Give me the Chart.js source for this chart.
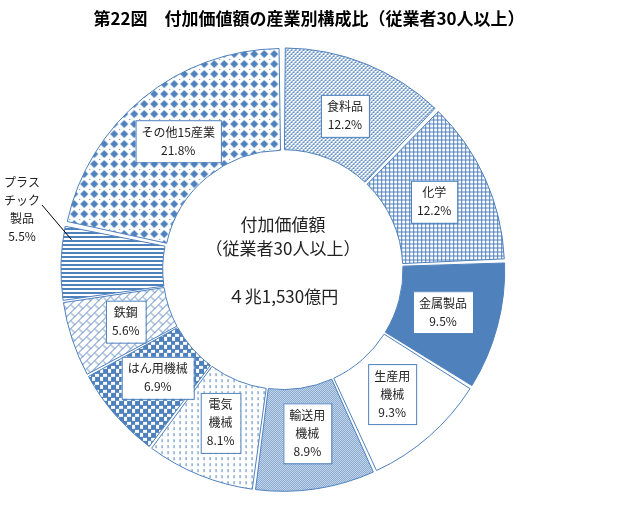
<!DOCTYPE html><html><head><meta charset="utf-8">
<script src="https://cdn.jsdelivr.net/npm/chart.js@4"></script>
<style>body{margin:0;background:#fff}#w{position:relative;width:618px;height:507px}
h1{position:absolute;left:0;top:5px;width:618px;margin:0;text-align:center;font:bold 17px "Noto Sans CJK JP";letter-spacing:0px}</style>
</head><body><div id="w"><h1>第22図　付加価値額の産業別構成比（従業者30人以上）</h1><canvas id="c" width="618" height="507"></canvas></div>
<script>
const categories=["食料品","化学","金属製品","生産用機械","輸送用機械","電気機械","はん用機械","鉄鋼","プラスチック製品","その他15産業"];
const labelLines=[["食料品"],["化学"],["金属製品"],["生産用","機械"],["輸送用","機械"],["電気","機械"],["はん用機械"],["鉄鋼"],["プラス","チック","製品"],["その他15産業"]];
const values=[12.2,12.2,9.5,9.3,8.9,8.1,6.9,5.6,5.5,21.8];
const centerLines=["付加価値額","（従業者30人以上）","","４兆1,530億円"];
const B='#4f81bd';
function pat(size,draw){const c=document.createElement('canvas');c.width=c.height=size;const x=c.getContext('2d');x.fillStyle='#fff';x.fillRect(0,0,size,size);x.fillStyle=B;x.strokeStyle=B;draw(x,size);return x.createPattern(c,'repeat');}
const fills=[
 pat(4,(x)=>{x.fillRect(0,0,2,2);x.fillRect(2,2,2,2);x.fillStyle='#fff';x.fillRect(0,0,1,1);x.fillRect(2,2,1,1);}),
 pat(4,(x)=>{x.fillRect(0,0,4,1);x.fillRect(0,0,1,4);}),
 B,
 '#fff',
 pat(2,(x)=>{x.fillRect(0,0,1,1);x.fillRect(1,1,1,1);}),
 pat(6,(x)=>{x.fillRect(0,0,1,3);}),
 pat(8,(x)=>{x.fillRect(0,0,4,4);x.fillRect(4,4,4,4);x.fillRect(0,4,8,1);x.fillRect(4,0,1,8);}),
 pat(8,(x)=>{x.lineWidth=1;x.beginPath();x.moveTo(0,8);x.lineTo(8,0);x.moveTo(-4,4);x.lineTo(4,-4);x.moveTo(4,12);x.lineTo(12,4);x.moveTo(0,0.5);x.lineTo(4,4.5);x.stroke();}),
 pat(4,(x)=>{x.fillRect(0,0,4,2);}),
 pat(10,(x)=>{x.beginPath();x.moveTo(5,1);x.lineTo(9,5);x.lineTo(5,9);x.lineTo(1,5);x.fill();x.fillRect(0,0,1,1);})
];
const F='"Noto Sans CJK JP","Noto Sans"';
const plug={id:'lab',afterDatasetsDraw(ch){const c=ch.ctx;const meta=ch.getDatasetMeta(0);
 c.save();c.textAlign='center';c.textBaseline='middle';
 const a0=meta.data[0];const cx=a0.x,cy=a0.y;
 c.fillStyle='#222';c.font='17px '+F;
 [[0,-45],[1,-21],[3,27]].forEach(([i,dy])=>c.fillText(centerLines[i],cx,cy+dy));
 meta.data.forEach((a,i)=>{const lines=labelLines[i].concat([values[i].toFixed(1)+'%']);c.font='12px '+F;
  const lh=18;
  if(i==8){const p=a.tooltipPosition();c.strokeStyle='#000';c.lineWidth=1;c.beginPath();c.moveTo(42,205);c.lineTo(p.x-40,p.y-25);c.stroke();
   lines.forEach((t,k)=>{c.fillStyle='#222';c.fillText(t,22,196+k*18-14);});return;}
  const m=(a.startAngle+a.endAngle)/2,r=(a.innerRadius+a.outerRadius)/2;
  let px=a.x+Math.cos(m)*r,py=a.y+Math.sin(m)*r;
  const w=Math.max(...lines.map(t=>c.measureText(t).width))+12,h=lines.length*lh+6;
  c.fillStyle='#fff';c.fillRect(px-w/2,py-h/2,w,h);c.strokeStyle=B;c.lineWidth=1;c.strokeRect(px-w/2+.5,py-h/2+.5,w,h);
  c.fillStyle='#222';lines.forEach((t,k)=>c.fillText(t,px,py-h/2+3+lh/2+k*lh));});
 c.restore();}};
new Chart(document.getElementById('c'),{type:'doughnut',data:{labels:categories,datasets:[{data:values,backgroundColor:fills,borderColor:B,borderWidth:1,offset:5,spacing:7}]},
options:{responsive:false,animation:false,cutout:'53%',layout:{padding:{left:60,right:112,top:42,bottom:10}},plugins:{legend:{display:false},tooltip:{enabled:false}}},plugins:[plug]});
</script></body></html>
